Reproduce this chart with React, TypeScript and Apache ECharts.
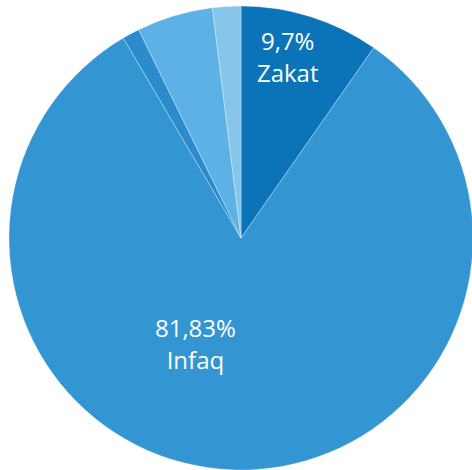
import React, { useEffect, useRef } from "react";
import * as echarts from "echarts";

const categories = ["Zakat", "Infaq", "Lainnya 1", "Lainnya 2", "Lainnya 3"];
const values = [9.7, 81.83, 1.2, 5.3, 1.97];
const labelTexts = ["9,7%", "81,83%", "", "", ""];
const colors = ["#0b74b9", "#3395d2", "#2b8bcc", "#5cb2e4", "#87c5ea"];
const labelShifts = [
  [11, -68],
  [-41, -13],
  [0, 0],
  [0, 0],
  [0, 0],
];

export default function App() {
  const ref = useRef<HTMLDivElement>(null);
  useEffect(() => {
    if (!ref.current) return;
    const chart = echarts.init(ref.current, undefined, { renderer: "svg" });
    chart.setOption({
      animation: false,
      backgroundColor: "#ffffff",
      series: [
        {
          type: "pie",
          center: [241, 238],
          radius: [0, 232],
          startAngle: 90,
          clockwise: true,
          avoidLabelOverlap: false,
          label: {
            show: true,
            position: "inside",
            color: "#ffffff",
            fontFamily: "Open Sans",
            fontSize: 24,
            lineHeight: 32,
            formatter: (p: any) =>
              labelTexts[p.dataIndex] ? labelTexts[p.dataIndex] + "\n" + p.name : "",
          },
          labelLine: { show: false },
          labelLayout: (p: any) => ({
            dx: labelShifts[p.dataIndex][0],
            dy: labelShifts[p.dataIndex][1],
          }),
          itemStyle: { borderColor: "rgba(255,255,255,0.5)", borderWidth: 0.6 },
          emphasis: { disabled: true },
          data: categories.map((c, i) => ({
            name: c,
            value: values[i],
            itemStyle: { color: colors[i] },
            label: { show: !!labelTexts[i] },
          })),
        },
      ],
    });
    return () => chart.dispose();
  }, []);
  return (
    <div
      ref={ref}
      style={{ position: "fixed", left: 0, top: 0, width: 472, height: 470 }}
    />
  );
}
